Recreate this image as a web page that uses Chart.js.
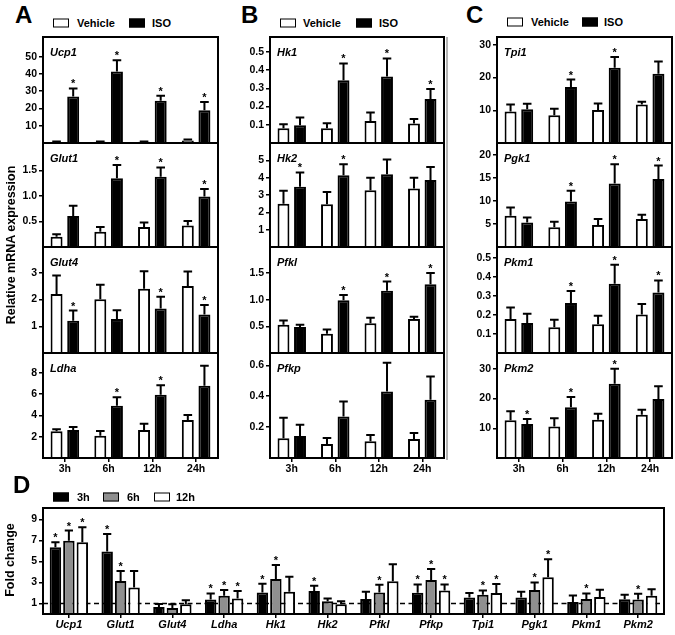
<!DOCTYPE html>
<html><head><meta charset="utf-8">
<script src="https://cdn.jsdelivr.net/npm/chart.js@4/dist/chart.umd.min.js"></script>
<style>
body{margin:0;background:#fff;width:675px;height:635px;position:relative;overflow:hidden;font-family:"Liberation Sans",Arial,sans-serif;color:#000;}
.letter{position:absolute;font-weight:bold;font-size:24px;line-height:24px;}
.lt{position:absolute;font-weight:bold;font-size:11px;line-height:11px;transform:translateY(-50%);white-space:nowrap;}
.sw{position:absolute;width:16px;height:9px;box-sizing:border-box;border:1.5px solid #000;transform:translateY(-50%);}
.ytitle{position:absolute;font-weight:bold;font-size:12.5px;white-space:nowrap;transform:translate(-50%,-50%) rotate(-90deg);}
</style>
</head><body>
<script>
// ---------- data ----------
const timepoints = ['3h', '6h', '12h', '24h'];
const seriesNames = ['Vehicle', 'ISO'];

// Panel A
const ucp1Vehicle = [0.6, 0.7, 0.7, 1.5];
const ucp1VehicleErr = [0.2, 0.2, 0.2, 0.5];
const ucp1Iso = [27.0, 41.4, 24.5, 18.9];
const ucp1IsoErr = [4.6, 6.6, 2.8, 4.8];
const ucp1Sig = [1, 1, 1, 1];
const ucp1Ticks = [10, 20, 30, 40, 50];

const glut1Vehicle = [0.20, 0.30, 0.39, 0.42];
const glut1VehicleErr = [0.05, 0.09, 0.09, 0.09];
const glut1Iso = [0.61, 1.35, 1.38, 0.99];
const glut1IsoErr = [0.20, 0.26, 0.18, 0.15];
const glut1Sig = [0, 1, 1, 1];
const glut1Ticks = [0.5, 1.0, 1.5];

const glut4Vehicle = [2.21, 2.01, 2.41, 2.51];
const glut4VehicleErr = [0.69, 0.55, 0.65, 0.54];
const glut4Iso = [1.21, 1.27, 1.67, 1.44];
const glut4IsoErr = [0.38, 0.33, 0.44, 0.36];
const glut4Sig = [1, 0, 1, 1];
const glut4Ticks = [1, 2, 3];

const ldhaVehicle = [2.50, 2.09, 2.62, 3.56];
const ldhaVehicleErr = [0.19, 0.44, 0.60, 0.47];
const ldhaIso = [2.62, 4.90, 5.93, 6.78];
const ldhaIsoErr = [0.28, 0.79, 0.88, 1.87];
const ldhaSig = [0, 1, 1, 0];
const ldhaTicks = [2, 4, 6, 8];

// Panel B
const hk1Vehicle = [0.081, 0.081, 0.121, 0.107];
const hk1VehicleErr = [0.022, 0.028, 0.047, 0.025];
const hk1Iso = [0.098, 0.345, 0.365, 0.241];
const hk1IsoErr = [0.042, 0.092, 0.099, 0.055];
const hk1Sig = [0, 1, 1, 1];
const hk1Ticks = [0.1, 0.2, 0.3, 0.4, 0.5];

const hk2Vehicle = [2.50, 2.47, 3.28, 3.37];
const hk2VehicleErr = [0.74, 0.71, 0.71, 0.62];
const hk2Iso = [3.47, 4.14, 4.20, 3.86];
const hk2IsoErr = [0.83, 0.64, 0.85, 0.76];
const hk2Sig = [1, 1, 0, 0];
const hk2Ticks = [1, 2, 3, 4, 5];

const pfklVehicle = [0.53, 0.36, 0.56, 0.64];
const pfklVehicleErr = [0.08, 0.08, 0.10, 0.04];
const pfklIso = [0.49, 0.99, 1.17, 1.29];
const pfklIsoErr = [0.04, 0.10, 0.17, 0.21];
const pfklSig = [0, 1, 1, 1];
const pfklTicks = [0.5, 1.0, 1.5];

const pfkpVehicle = [0.128, 0.090, 0.108, 0.123];
const pfkpVehicleErr = [0.132, 0.040, 0.041, 0.039];
const pfkpIso = [0.143, 0.268, 0.430, 0.377];
const pfkpIsoErr = [0.073, 0.098, 0.187, 0.151];
const pfkpSig = [0, 0, 0, 0];
const pfkpTicks = [0.2, 0.4, 0.6];

// Panel C
const tpi1Vehicle = [9.6, 8.5, 10.1, 11.8];
const tpi1VehicleErr = [2.2, 2.0, 2.0, 0.8];
const tpi1Iso = [10.3, 17.1, 23.0, 21.2];
const tpi1IsoErr = [1.7, 2.3, 3.3, 3.7];
const tpi1Sig = [0, 1, 1, 0];
const tpi1Ticks = [10, 20, 30];

const pgk1Vehicle = [6.8, 4.3, 4.8, 6.1];
const pgk1VehicleErr = [1.8, 1.2, 1.3, 0.9];
const pgk1Iso = [5.3, 9.9, 13.8, 14.8];
const pgk1IsoErr = [1.1, 2.3, 4.2, 2.9];
const pgk1Sig = [0, 1, 1, 1];
const pgk1Ticks = [5, 10, 15, 20];

const pkm1Vehicle = [0.179, 0.135, 0.151, 0.203];
const pkm1VehicleErr = [0.061, 0.040, 0.045, 0.055];
const pkm1Iso = [0.158, 0.263, 0.365, 0.319];
const pkm1IsoErr = [0.049, 0.063, 0.100, 0.063];
const pkm1Sig = [0, 1, 1, 1];
const pkm1Ticks = [0.1, 0.2, 0.3, 0.4, 0.5];

const pkm2Vehicle = [12.7, 10.6, 12.9, 14.5];
const pkm2VehicleErr = [3.0, 2.8, 2.0, 1.7];
const pkm2Iso = [11.4, 17.1, 25.0, 19.8];
const pkm2IsoErr = [1.7, 3.4, 5.0, 4.3];
const pkm2Sig = [1, 1, 1, 0];
const pkm2Ticks = [10, 20, 30];

// Panel D (fold change)
const foldGenes = ['Ucp1', 'Glut1', 'Glut4', 'Ldha', 'Hk1', 'Hk2', 'Pfkl', 'Pfkp', 'Tpi1', 'Pgk1', 'Pkm1', 'Pkm2'];
const foldSeriesNames = ['3h', '6h', '12h'];
const fold3h = [6.35, 5.96, 0.67, 1.38, 2.05, 2.18, 1.44, 2.02, 1.57, 1.57, 1.15, 1.41];
const fold3hErr = [0.48, 1.67, 0.29, 0.58, 0.83, 0.51, 0.68, 0.80, 0.42, 0.55, 0.61, 0.42];
const fold6h = [6.99, 3.14, 0.58, 1.73, 3.33, 1.22, 2.05, 3.24, 1.83, 2.28, 1.44, 1.38];
const fold6hErr = [0.96, 0.96, 0.35, 0.55, 1.35, 0.25, 0.74, 1.05, 0.41, 0.73, 0.52, 0.54];
const fold12h = [6.83, 2.53, 0.93, 1.47, 2.12, 0.93, 3.11, 2.24, 1.99, 3.49, 1.63, 1.73];
const fold12hErr = [1.44, 1.57, 0.38, 0.71, 1.44, 0.29, 1.63, 0.58, 0.86, 1.73, 0.68, 0.64];
const fold3hSig = [1, 1, 0, 1, 1, 1, 0, 1, 0, 0, 0, 0];
const fold6hSig = [1, 1, 0, 1, 1, 0, 1, 1, 1, 1, 1, 1];
const fold12hSig = [1, 0, 0, 1, 0, 0, 0, 1, 1, 1, 0, 0];
const foldTicks = [1, 3, 5, 7, 9];
const foldBaseline = 1;

// ---------- drawing ----------
const FAM = '"Liberation Sans", Arial, sans-serif';

const errorBarPlugin = {
  id: 'errbars',
  afterDatasetsDraw(chart) {
    const ctx = chart.ctx, ys = chart.scales.y;
    chart.data.datasets.forEach((ds, i) => {
      const meta = chart.getDatasetMeta(i);
      meta.data.forEach((bar, j) => {
        const v = ds.data[j], e = ds.errors[j];
        const yTop = ys.getPixelForValue(v + e);
        const cap = bar.width * 0.72;
        ctx.save();
        ctx.strokeStyle = '#000';
        ctx.lineWidth = 2;
        ctx.beginPath();
        ctx.moveTo(bar.x, bar.y);
        ctx.lineTo(bar.x, yTop);
        ctx.moveTo(bar.x - cap / 2, yTop);
        ctx.lineTo(bar.x + cap / 2, yTop);
        ctx.stroke();
        if (ds.sig && ds.sig[j]) {
          ctx.fillStyle = '#000';
          ctx.font = 'bold 11px ' + FAM;
          ctx.textAlign = 'center';
          ctx.textBaseline = 'alphabetic';
          ctx.fillText('*', bar.x, yTop - 1);
        }
        ctx.restore();
      });
    });
  }
};

function makeChart(o) {
  const cv = document.createElement('canvas');
  const W = o.boxRight - o.left + 2;
  const bh = o.boxBottom - o.boxTop;
  const H = bh + 2 + (o.showX ? o.xH : 2);
  cv.width = W; cv.height = H;
  cv.style.cssText = `position:absolute;left:${o.left}px;top:${o.boxTop - 2}px;width:${W}px;height:${H}px;`;
  document.body.appendChild(cv);
  const boxPlugin = {
    id: 'box',
    beforeDatasetsDraw(chart) {
      if (o.baseline === undefined) return;
      const a = chart.chartArea, ctx = chart.ctx;
      const y = chart.scales.y.getPixelForValue(o.baseline);
      ctx.save();
      ctx.strokeStyle = '#000'; ctx.lineWidth = 1.5; ctx.setLineDash([5, 3.5]);
      ctx.beginPath(); ctx.moveTo(a.left, y); ctx.lineTo(a.right, y); ctx.stroke();
      ctx.restore();
    },
    afterDraw(chart) {
      const a = chart.chartArea, ctx = chart.ctx;
      ctx.save();
      ctx.strokeStyle = '#000'; ctx.lineWidth = 2;
      ctx.strokeRect(a.left, a.top, a.right - a.left, a.bottom - a.top);
      if (o.gene) {
        ctx.fillStyle = '#000';
        ctx.font = 'italic bold 11px ' + FAM;
        ctx.textAlign = 'left'; ctx.textBaseline = 'alphabetic';
        ctx.fillText(o.gene, a.left + 7, a.top + 19);
      }
      ctx.restore();
    }
  };
  new Chart(cv, {
    type: 'bar',
    data: { labels: o.labels, datasets: o.datasets },
    options: {
      responsive: false, animation: false, devicePixelRatio: 1,
      layout: { padding: { top: 2, right: 2, bottom: o.showX ? 0 : 2, left: 0 } },
      plugins: { legend: { display: false }, tooltip: { enabled: false } },
      datasets: { bar: { categoryPercentage: o.catPct, barPercentage: o.barPct } },
      scales: {
        x: {
          display: o.showX,
          grid: { display: true, drawOnChartArea: false, offset: false, tickLength: 4, color: '#000', lineWidth: 1.5 },
          border: { display: false },
          ticks: { color: '#000', padding: o.xPad, maxRotation: 0, autoSkip: false,
                   font: { family: FAM, size: o.xFont, weight: 'bold', style: o.xItalic ? 'italic' : 'normal' } },
          afterFit(s) { s.height = o.showX ? o.xH : 0; s.paddingLeft = 0; s.paddingRight = 0; }
        },
        y: {
          min: 0, max: o.max,
          afterBuildTicks(s) { s.ticks = o.ticks.map(v => ({ value: v })); },
          grid: { drawOnChartArea: false, tickLength: 4, color: '#000', lineWidth: 1.5 },
          border: { display: false },
          ticks: { color: '#000', padding: 2, font: { family: FAM, size: 10.5, weight: 'bold' },
                   callback: v => Number(v).toFixed(o.dec) },
          afterFit(s) { s.width = o.boxLeft - o.left; s.paddingTop = 0; s.paddingBottom = 0; }
        }
      }
    },
    plugins: [boxPlugin, errorBarPlugin]
  });
}

function pairSets(veh, vehErr, iso, isoErr, sig) {
  return [
    { label: seriesNames[0], data: veh, errors: vehErr, backgroundColor: '#fff', borderColor: '#000', borderWidth: 2 },
    { label: seriesNames[1], data: iso, errors: isoErr, sig: sig, backgroundColor: '#000', borderColor: '#000', borderWidth: 2 }
  ];
}

const rows = [37, 143, 247, 353, 458];
const columns = [
  { left: 14, boxLeft: 43, boxRight: 218, subs: [
    { gene: 'Ucp1', d: [ucp1Vehicle, ucp1VehicleErr, ucp1Iso, ucp1IsoErr, ucp1Sig], ticks: ucp1Ticks, max: 61.4, dec: 0 },
    { gene: 'Glut1', d: [glut1Vehicle, glut1VehicleErr, glut1Iso, glut1IsoErr, glut1Sig], ticks: glut1Ticks, max: 2.04, dec: 1 },
    { gene: 'Glut4', d: [glut4Vehicle, glut4VehicleErr, glut4Iso, glut4IsoErr, glut4Sig], ticks: glut4Ticks, max: 3.97, dec: 0 },
    { gene: 'Ldha', d: [ldhaVehicle, ldhaVehicleErr, ldhaIso, ldhaIsoErr, ldhaSig], ticks: ldhaTicks, max: 9.84, dec: 0 } ] },
  { left: 225, boxLeft: 270, boxRight: 444, subs: [
    { gene: 'Hk1', d: [hk1Vehicle, hk1VehicleErr, hk1Iso, hk1IsoErr, hk1Sig], ticks: hk1Ticks, max: 0.582, dec: 1 },
    { gene: 'Hk2', d: [hk2Vehicle, hk2VehicleErr, hk2Iso, hk2IsoErr, hk2Sig], ticks: hk2Ticks, max: 6.0, dec: 0 },
    { gene: 'Pfkl', d: [pfklVehicle, pfklVehicleErr, pfklIso, pfklIsoErr, pfklSig], ticks: pfklTicks, max: 1.99, dec: 1 },
    { gene: 'Pfkp', d: [pfkpVehicle, pfkpVehicleErr, pfkpIso, pfkpIsoErr, pfkpSig], ticks: pfkpTicks, max: 0.68, dec: 1 } ] },
  { left: 452, boxLeft: 497, boxRight: 672, subs: [
    { gene: 'Tpi1', d: [tpi1Vehicle, tpi1VehicleErr, tpi1Iso, tpi1IsoErr, tpi1Sig], ticks: tpi1Ticks, max: 32.4, dec: 0 },
    { gene: 'Pgk1', d: [pgk1Vehicle, pgk1VehicleErr, pgk1Iso, pgk1IsoErr, pgk1Sig], ticks: pgk1Ticks, max: 22.6, dec: 0 },
    { gene: 'Pkm1', d: [pkm1Vehicle, pkm1VehicleErr, pkm1Iso, pkm1IsoErr, pkm1Sig], ticks: pkm1Ticks, max: 0.558, dec: 1 },
    { gene: 'Pkm2', d: [pkm2Vehicle, pkm2VehicleErr, pkm2Iso, pkm2IsoErr, pkm2Sig], ticks: pkm2Ticks, max: 35.3, dec: 0 } ] }
];

columns.forEach(col => {
  col.subs.forEach((s, r) => {
    makeChart({
      left: col.left, boxLeft: col.boxLeft, boxRight: col.boxRight,
      boxTop: rows[r], boxBottom: rows[r + 1],
      showX: r === 3, xH: 18, xPad: 1, xFont: 10.5, xItalic: false,
      labels: timepoints, datasets: pairSets(...s.d),
      ticks: s.ticks, max: s.max, dec: s.dec, gene: s.gene,
      catPct: 0.76, barPct: 0.72
    });
  });
});

makeChart({
  left: 14, boxLeft: 43, boxRight: 664, boxTop: 508, boxBottom: 614,
  showX: true, xH: 18, xPad: 0, xFont: 11, xItalic: true,
  labels: foldGenes,
  datasets: [
    { label: foldSeriesNames[0], data: fold3h, errors: fold3hErr, sig: fold3hSig, backgroundColor: '#000', borderColor: '#000', borderWidth: 2 },
    { label: foldSeriesNames[1], data: fold6h, errors: fold6hErr, sig: fold6hSig, backgroundColor: '#8f8f8f', borderColor: '#000', borderWidth: 2 },
    { label: foldSeriesNames[2], data: fold12h, errors: fold12hErr, sig: fold12hSig, backgroundColor: '#fff', borderColor: '#000', borderWidth: 2 }
  ],
  ticks: foldTicks, max: 10.1, dec: 0, gene: null, baseline: foldBaseline,
  catPct: 0.78, barPct: 0.85
});

// ---------- text: letters, legends, axis titles ----------
function addEl(cls, text, css) {
  const d = document.createElement('div');
  d.className = cls; if (text) d.textContent = text; d.style.cssText += css;
  document.body.appendChild(d); return d;
}
addEl('letter', 'A', 'left:15px;top:3px;');
addEl('letter', 'B', 'left:241px;top:3px;');
addEl('letter', 'C', 'left:466px;top:3px;');
addEl('letter', 'D', 'left:13px;top:473px;');

function legendPair(y, xs) {
  addEl('sw', '', `left:${xs[0]}px;top:${y}px;background:#fff;`);
  addEl('lt', seriesNames[0], `left:${xs[1]}px;top:${y}px;`);
  addEl('sw', '', `left:${xs[2]}px;top:${y}px;background:#000;`);
  addEl('lt', seriesNames[1], `left:${xs[3]}px;top:${y}px;`);
}
legendPair(23, [53, 77, 129, 152]);
legendPair(23, [280, 303, 356, 379]);
legendPair(22, [507, 531, 582, 604]);

addEl('sw', '', 'left:53px;top:497px;background:#000;');
addEl('lt', foldSeriesNames[0], 'left:77px;top:497px;');
addEl('sw', '', 'left:103px;top:497px;background:#8f8f8f;');
addEl('lt', foldSeriesNames[1], 'left:127px;top:497px;');
addEl('sw', '', 'left:154px;top:497px;background:#fff;');
addEl('lt', foldSeriesNames[2], 'left:176px;top:497px;');

addEl('ytitle', 'Relative mRNA expression', 'left:11px;top:245px;');
addEl('ytitle', 'Fold change', 'left:10px;top:560px;');

// faint separator seen in the source figure
addEl('', '', 'position:absolute;left:446px;top:37px;width:1.5px;height:423px;background:#b5b5b5;');
</script>
</body></html>
